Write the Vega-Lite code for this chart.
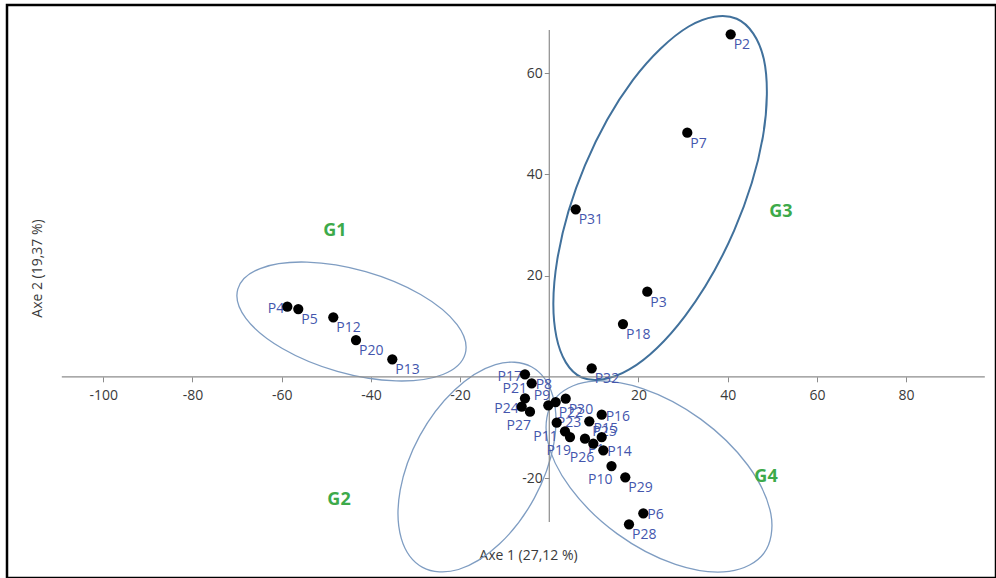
{
  "$schema": "https://vega.github.io/schema/vega-lite/v6.json",
  "width": 989,
  "height": 573,
  "autosize": {"type": "none"},
  "padding": {"left": 7, "top": 5, "right": 0, "bottom": 0},
  "background": "white",
  "config": {
    "view": {"stroke": "#000000", "strokeWidth": 2.5},
    "font": "Open Sans",
    "axisX": {
      "orient": "bottom", "offset": -201.2,
      "domain": false, "grid": false, "ticks": true, "tickColor": "#8c8c8c", "tickSize": 5, "tickWidth": 1,
      "labelFont": "Open Sans", "labelFontSize": 14, "labelColor": "#3a3a3a", "labelPadding": 7,
      "labelFlush": false, "labelOverlap": false, "labelExpr": "replace(datum.label, '\u2212', '-')",
      "titleFont": "Open Sans", "titleFontSize": 14, "titleFontWeight": "normal", "titleColor": "#3a3a3a",
      "titleX": 521, "titleY": 172, "titleBaseline": "top", "titleAlign": "center", "zindex": 1
    },
    "axisY": {
      "orient": "left", "offset": -542.3,
      "domain": false, "grid": false, "ticks": true, "tickColor": "#8c8c8c", "tickSize": 5, "tickWidth": 1,
      "labelFont": "Open Sans", "labelFontSize": 14, "labelColor": "#3a3a3a", "labelPadding": 2,
      "labelFlush": false, "labelOverlap": false, "labelExpr": "replace(datum.label, '\u2212', '-')",
      "titleFont": "Open Sans", "titleFontSize": 14, "titleFontWeight": "normal", "titleColor": "#3a3a3a",
      "titleX": -505, "titleY": 263, "titleAngle": 270, "titleBaseline": "bottom", "titleAlign": "center", "zindex": 1
    }
  },
  "datasets": {
    "points": [
      {"name": "P1", "x": 8.00, "y": -12.23},
      {"name": "P2", "x": 40.67, "y": 67.69},
      {"name": "P3", "x": 21.97, "y": 16.82},
      {"name": "P4", "x": -58.74, "y": 13.85},
      {"name": "P5", "x": -56.28, "y": 13.40},
      {"name": "P6", "x": 21.08, "y": -26.98},
      {"name": "P7", "x": 30.94, "y": 48.24},
      {"name": "P8", "x": -3.95, "y": -1.28},
      {"name": "P9", "x": -0.22, "y": -5.63},
      {"name": "P10", "x": 13.95, "y": -17.63},
      {"name": "P11", "x": 1.66, "y": -9.07},
      {"name": "P12", "x": -48.43, "y": 11.76},
      {"name": "P13", "x": -35.20, "y": 3.46},
      {"name": "P14", "x": 12.11, "y": -14.53},
      {"name": "P15", "x": 11.75, "y": -11.90},
      {"name": "P16", "x": 11.75, "y": -7.49},
      {"name": "P17", "x": -5.45, "y": 0.49},
      {"name": "P18", "x": 16.52, "y": 10.43},
      {"name": "P19", "x": 4.64, "y": -11.90},
      {"name": "P20", "x": -43.34, "y": 7.27},
      {"name": "P21", "x": -5.45, "y": -4.25},
      {"name": "P22", "x": 1.43, "y": -4.98},
      {"name": "P23", "x": 3.52, "y": -10.77},
      {"name": "P24", "x": -6.19, "y": -5.91},
      {"name": "P25", "x": 8.97, "y": -8.79},
      {"name": "P26", "x": 9.87, "y": -13.22},
      {"name": "P27", "x": -4.33, "y": -6.90},
      {"name": "P28", "x": 17.87, "y": -29.15},
      {"name": "P29", "x": 17.04, "y": -19.86},
      {"name": "P30", "x": 3.68, "y": -4.33},
      {"name": "P31", "x": 5.92, "y": 33.10},
      {"name": "P32", "x": 9.51, "y": 1.68}
    ],
    "ellipses": [
      {"g": "G1", "i": 0, "x": -18.86, "y": 4.53},
      {"g": "G1", "i": 1, "x": -23.86, "y": 0.46},
      {"g": "G1", "i": 2, "x": -34.36, "y": -0.81},
      {"g": "G1", "i": 3, "x": -47.53, "y": 1.07},
      {"g": "G1", "i": 4, "x": -59.85, "y": 5.59},
      {"g": "G1", "i": 5, "x": -68.03, "y": 11.55},
      {"g": "G1", "i": 6, "x": -69.84, "y": 17.33},
      {"g": "G1", "i": 7, "x": -64.84, "y": 21.40},
      {"g": "G1", "i": 8, "x": -54.34, "y": 22.67},
      {"g": "G1", "i": 9, "x": -41.17, "y": 20.79},
      {"g": "G1", "i": 10, "x": -28.85, "y": 16.27},
      {"g": "G1", "i": 11, "x": -20.67, "y": 10.31},
      {"g": "G2", "i": 0, "x": -4.01, "y": 1.99},
      {"g": "G2", "i": 1, "x": 0.77, "y": -3.74},
      {"g": "G2", "i": 2, "x": 1.01, "y": -13.25},
      {"g": "G2", "i": 3, "x": -3.36, "y": -23.98},
      {"g": "G2", "i": 4, "x": -11.19, "y": -33.06},
      {"g": "G2", "i": 5, "x": -20.35, "y": -38.08},
      {"g": "G2", "i": 6, "x": -28.41, "y": -37.65},
      {"g": "G2", "i": 7, "x": -33.19, "y": -31.92},
      {"g": "G2", "i": 8, "x": -33.43, "y": -22.41},
      {"g": "G2", "i": 9, "x": -29.06, "y": -11.68},
      {"g": "G2", "i": 10, "x": -21.23, "y": -2.60},
      {"g": "G2", "i": 11, "x": -12.07, "y": 2.42},
      {"g": "G3", "i": 0, "x": 42.02, "y": 70.76},
      {"g": "G3", "i": 1, "x": 48.10, "y": 62.79},
      {"g": "G3", "i": 2, "x": 47.90, "y": 47.47},
      {"g": "G3", "i": 3, "x": 41.44, "y": 28.90},
      {"g": "G3", "i": 4, "x": 30.47, "y": 12.06},
      {"g": "G3", "i": 5, "x": 17.94, "y": 1.45},
      {"g": "G3", "i": 6, "x": 7.18, "y": -0.08},
      {"g": "G3", "i": 7, "x": 1.60, "y": 7.89},
      {"g": "G3", "i": 8, "x": 1.80, "y": 23.21},
      {"g": "G3", "i": 9, "x": 8.00, "y": 41.78},
      {"g": "G3", "i": 10, "x": 18.73, "y": 58.62},
      {"g": "G3", "i": 11, "x": 31.26, "y": 69.23},
      {"g": "G4", "i": 0, "x": 48.17, "y": -34.80},
      {"g": "G4", "i": 1, "x": 40.33, "y": -38.45},
      {"g": "G4", "i": 2, "x": 28.29, "y": -37.07},
      {"g": "G4", "i": 3, "x": 15.25, "y": -31.04},
      {"g": "G4", "i": 4, "x": 4.72, "y": -21.97},
      {"g": "G4", "i": 5, "x": -0.48, "y": -12.29},
      {"g": "G4", "i": 6, "x": 1.03, "y": -4.60},
      {"g": "G4", "i": 7, "x": 8.87, "y": -0.95},
      {"g": "G4", "i": 8, "x": 20.91, "y": -2.33},
      {"g": "G4", "i": 9, "x": 33.95, "y": -8.36},
      {"g": "G4", "i": 10, "x": 44.48, "y": -17.43},
      {"g": "G4", "i": 11, "x": 49.68, "y": -27.11}
    ],
    "groups": [
      {"label": "G1", "x": -48.05, "y": 28.81},
      {"label": "G2", "x": -47.15, "y": -24.35},
      {"label": "G3", "x": 51.95, "y": 32.57},
      {"label": "G4", "x": 48.59, "y": -19.80}
    ]
  },
  "layer": [
    {
      "data": {"name": "ellipses"},
      "transform": [{"filter": "datum.g != 'G3'"}],
      "mark": {"type": "line", "interpolate": "cardinal-closed", "stroke": "#7f9dc2", "strokeWidth": 1.3},
      "encoding": {
        "x": {"field": "x", "type": "quantitative", "scale": {"domain": [-121.59, 100.16], "nice": false, "zero": false}, "axis": {"title": "Axe 1 (27,12 %)", "values": [-100, -80, -60, -40, -20, 20, 40, 60, 80]}},
        "y": {"field": "y", "type": "quantitative", "scale": {"domain": [-39.76, 73.48], "nice": false, "zero": false}, "axis": {"title": "Axe 2 (19,37 %)", "values": [-20, 20, 40, 60]}},
        "detail": {"field": "g"},
        "order": {"field": "i", "type": "quantitative"}
      }
    },
    {
      "data": {"name": "ellipses"},
      "transform": [{"filter": "datum.g == 'G3'"}],
      "mark": {"type": "line", "interpolate": "cardinal-closed", "stroke": "#41719c", "strokeWidth": 2},
      "encoding": {
        "x": {"field": "x", "type": "quantitative", "scale": {"domain": [-121.59, 100.16], "nice": false, "zero": false}, "axis": {"title": "Axe 1 (27,12 %)", "values": [-100, -80, -60, -40, -20, 20, 40, 60, 80]}},
        "y": {"field": "y", "type": "quantitative", "scale": {"domain": [-39.76, 73.48], "nice": false, "zero": false}, "axis": {"title": "Axe 2 (19,37 %)", "values": [-20, 20, 40, 60]}},
        "order": {"field": "i", "type": "quantitative"}
      }
    },
    {
      "data": {"values": [{}]},
      "mark": {"type": "rule", "stroke": "#8c8c8c", "strokeWidth": 1.2},
      "encoding": {
        "x": {"datum": -109.3, "type": "quantitative", "scale": {"domain": [-121.59, 100.16], "nice": false, "zero": false}, "axis": {"title": "Axe 1 (27,12 %)", "values": [-100, -80, -60, -40, -20, 20, 40, 60, 80]}},
        "x2": {"datum": 97.65},
        "y": {"datum": 0, "type": "quantitative", "scale": {"domain": [-39.76, 73.48], "nice": false, "zero": false}, "axis": {"title": "Axe 2 (19,37 %)", "values": [-20, 20, 40, 60]}}
      }
    },
    {
      "data": {"values": [{}]},
      "mark": {"type": "rule", "stroke": "#8c8c8c", "strokeWidth": 1.2},
      "encoding": {
        "x": {"datum": 0, "type": "quantitative", "scale": {"domain": [-121.59, 100.16], "nice": false, "zero": false}, "axis": {"title": "Axe 1 (27,12 %)", "values": [-100, -80, -60, -40, -20, 20, 40, 60, 80]}},
        "y": {"datum": -28.7, "type": "quantitative", "scale": {"domain": [-39.76, 73.48], "nice": false, "zero": false}, "axis": {"title": "Axe 2 (19,37 %)", "values": [-20, 20, 40, 60]}},
        "y2": {"datum": 68.54}
      }
    },
    {
      "data": {"name": "points"},
      "transform": [{"filter": {"not": {"field": "name", "oneOf": ["P8", "P16", "P14", "P6", "P4", "P17", "P24", "P9", "P21", "P27", "P11", "P19", "P26", "P10", "P23", "P15"]}}}],
      "mark": {"type": "text", "font": "Open Sans", "fontSize": 14, "fill": "#4456ad", "align": "left", "baseline": "alphabetic", "dx": 3, "dy": 15},
      "encoding": {
        "x": {"field": "x", "type": "quantitative", "scale": {"domain": [-121.59, 100.16], "nice": false, "zero": false}, "axis": {"title": "Axe 1 (27,12 %)", "values": [-100, -80, -60, -40, -20, 20, 40, 60, 80]}},
        "y": {"field": "y", "type": "quantitative", "scale": {"domain": [-39.76, 73.48], "nice": false, "zero": false}, "axis": {"title": "Axe 2 (19,37 %)", "values": [-20, 20, 40, 60]}},
        "text": {"field": "name"}
      }
    },
    {
      "data": {"name": "points"},
      "transform": [{"filter": {"field": "name", "oneOf": ["P8", "P16", "P14", "P6"]}}],
      "mark": {"type": "text", "font": "Open Sans", "fontSize": 14, "fill": "#4456ad", "align": "left", "baseline": "alphabetic", "dx": 4, "dy": 6},
      "encoding": {
        "x": {"field": "x", "type": "quantitative", "scale": {"domain": [-121.59, 100.16], "nice": false, "zero": false}, "axis": {"title": "Axe 1 (27,12 %)", "values": [-100, -80, -60, -40, -20, 20, 40, 60, 80]}},
        "y": {"field": "y", "type": "quantitative", "scale": {"domain": [-39.76, 73.48], "nice": false, "zero": false}, "axis": {"title": "Axe 2 (19,37 %)", "values": [-20, 20, 40, 60]}},
        "text": {"field": "name"}
      }
    },
    {
      "data": {"name": "points"},
      "transform": [{"filter": {"field": "name", "oneOf": ["P4", "P17", "P24"]}}],
      "mark": {"type": "text", "font": "Open Sans", "fontSize": 14, "fill": "#4456ad", "align": "right", "baseline": "alphabetic", "dx": -3, "dy": 6.5},
      "encoding": {
        "x": {"field": "x", "type": "quantitative", "scale": {"domain": [-121.59, 100.16], "nice": false, "zero": false}, "axis": {"title": "Axe 1 (27,12 %)", "values": [-100, -80, -60, -40, -20, 20, 40, 60, 80]}},
        "y": {"field": "y", "type": "quantitative", "scale": {"domain": [-39.76, 73.48], "nice": false, "zero": false}, "axis": {"title": "Axe 2 (19,37 %)", "values": [-20, 20, 40, 60]}},
        "text": {"field": "name"}
      }
    },
    {
      "data": {"name": "points"},
      "transform": [{"filter": {"field": "name", "oneOf": ["P9", "P21"]}}],
      "mark": {"type": "text", "font": "Open Sans", "fontSize": 14, "fill": "#4456ad", "align": "right", "baseline": "alphabetic", "dx": 2, "dy": -5},
      "encoding": {
        "x": {"field": "x", "type": "quantitative", "scale": {"domain": [-121.59, 100.16], "nice": false, "zero": false}, "axis": {"title": "Axe 1 (27,12 %)", "values": [-100, -80, -60, -40, -20, 20, 40, 60, 80]}},
        "y": {"field": "y", "type": "quantitative", "scale": {"domain": [-39.76, 73.48], "nice": false, "zero": false}, "axis": {"title": "Axe 2 (19,37 %)", "values": [-20, 20, 40, 60]}},
        "text": {"field": "name"}
      }
    },
    {
      "data": {"name": "points"},
      "transform": [{"filter": {"field": "name", "oneOf": ["P27", "P11", "P19", "P26", "P10"]}}],
      "mark": {"type": "text", "font": "Open Sans", "fontSize": 14, "fill": "#4456ad", "align": "right", "baseline": "alphabetic", "dx": 1, "dy": 18},
      "encoding": {
        "x": {"field": "x", "type": "quantitative", "scale": {"domain": [-121.59, 100.16], "nice": false, "zero": false}, "axis": {"title": "Axe 1 (27,12 %)", "values": [-100, -80, -60, -40, -20, 20, 40, 60, 80]}},
        "y": {"field": "y", "type": "quantitative", "scale": {"domain": [-39.76, 73.48], "nice": false, "zero": false}, "axis": {"title": "Axe 2 (19,37 %)", "values": [-20, 20, 40, 60]}},
        "text": {"field": "name"}
      }
    },
    {
      "data": {"name": "points"},
      "transform": [{"filter": {"field": "name", "oneOf": ["P23", "P15"]}}],
      "mark": {"type": "text", "font": "Open Sans", "fontSize": 14, "fill": "#4456ad", "align": "center", "baseline": "alphabetic", "dx": 4, "dy": -4},
      "encoding": {
        "x": {"field": "x", "type": "quantitative", "scale": {"domain": [-121.59, 100.16], "nice": false, "zero": false}, "axis": {"title": "Axe 1 (27,12 %)", "values": [-100, -80, -60, -40, -20, 20, 40, 60, 80]}},
        "y": {"field": "y", "type": "quantitative", "scale": {"domain": [-39.76, 73.48], "nice": false, "zero": false}, "axis": {"title": "Axe 2 (19,37 %)", "values": [-20, 20, 40, 60]}},
        "text": {"field": "name"}
      }
    },
    {
      "data": {"name": "points"},
      "mark": {"type": "circle", "size": 105, "color": "#000000", "opacity": 1},
      "encoding": {
        "x": {"field": "x", "type": "quantitative", "scale": {"domain": [-121.59, 100.16], "nice": false, "zero": false}, "axis": {"title": "Axe 1 (27,12 %)", "values": [-100, -80, -60, -40, -20, 20, 40, 60, 80]}},
        "y": {"field": "y", "type": "quantitative", "scale": {"domain": [-39.76, 73.48], "nice": false, "zero": false}, "axis": {"title": "Axe 2 (19,37 %)", "values": [-20, 20, 40, 60]}}
      }
    },
    {
      "data": {"name": "groups"},
      "mark": {"type": "text", "font": "Open Sans", "fontSize": 18, "fontWeight": "bold", "fill": "#3daa4a", "align": "center", "baseline": "middle"},
      "encoding": {
        "x": {"field": "x", "type": "quantitative", "scale": {"domain": [-121.59, 100.16], "nice": false, "zero": false}, "axis": {"title": "Axe 1 (27,12 %)", "values": [-100, -80, -60, -40, -20, 20, 40, 60, 80]}},
        "y": {"field": "y", "type": "quantitative", "scale": {"domain": [-39.76, 73.48], "nice": false, "zero": false}, "axis": {"title": "Axe 2 (19,37 %)", "values": [-20, 20, 40, 60]}},
        "text": {"field": "label"}
      }
    }
  ]
}
